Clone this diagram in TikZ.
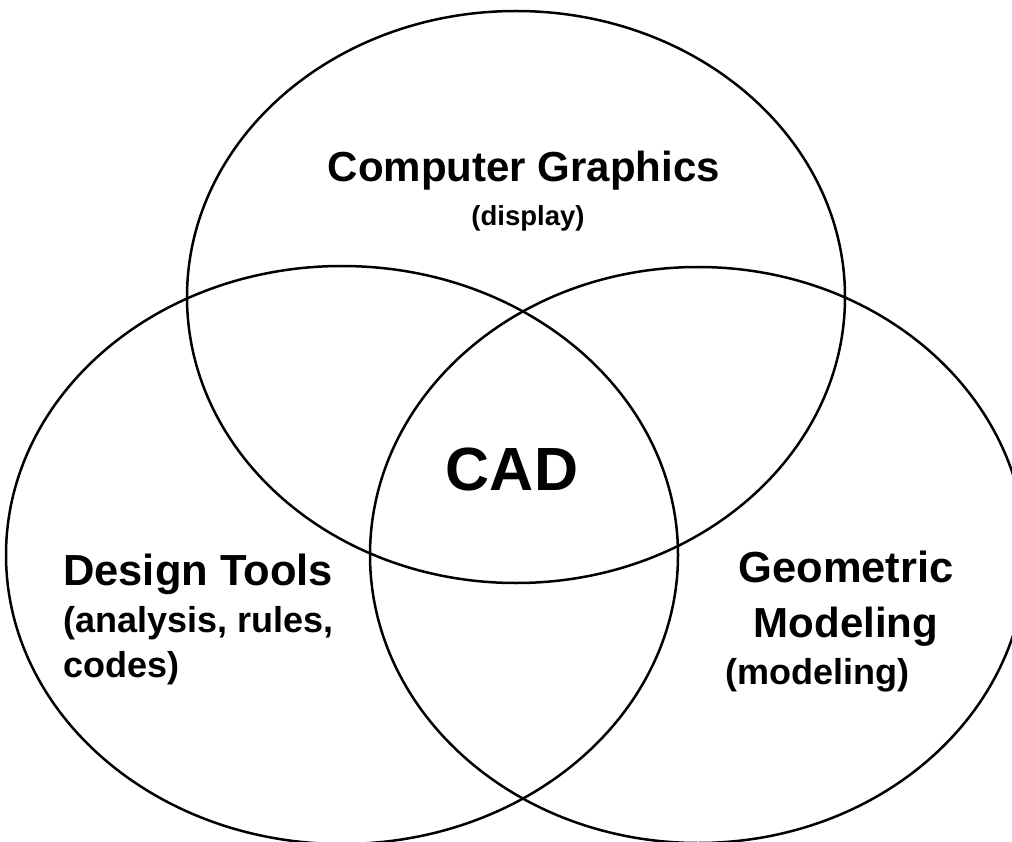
\documentclass[tikz,border=0pt]{standalone}
\usepackage{fontspec}
\setmainfont{Liberation Sans}
\begin{document}
\begin{tikzpicture}[x=1pt,y=-1pt,
  ring/.style={draw=black,line width=2.5pt},
  head/.style={inner sep=0pt,font=\fontsize{42}{50}\selectfont\bfseries},
  headbig/.style={inner sep=0pt,font=\fontsize{43.5}{52}\selectfont\bfseries},
  sub/.style={inner sep=0pt,font=\fontsize{36}{42}\selectfont\bfseries},
  subsmall/.style={inner sep=0pt,font=\fontsize{27.5}{32}\selectfont\bfseries},
  core/.style={inner sep=0pt,font=\fontsize{61}{70}\selectfont\bfseries}]
  \useasboundingbox (0,0) rectangle (1012,842);
  \begin{scope}
    \clip (0,0) rectangle (1012,842);
    % three overlapping sets
    \draw[ring] (516,297) ellipse [x radius=329, y radius=286];
    \draw[ring] (342,555) ellipse [x radius=336, y radius=289];
    \draw[ring] (698,555) ellipse [x radius=328, y radius=288];
  \end{scope}
  % labels
  \node[head,anchor=base] (cg) at (524,182) {Computer Graphics};
  \node[subsmall,anchor=base] (cgs) at (528,226) {(display)};
  \node[core,anchor=base] (cad) at (512,490) {CAD};
  \node[headbig,anchor=base west] (dt) at (63,585) {Design Tools};
  \node[sub,anchor=base west] (dt1) at (63,632) {(analysis, rules,};
  \node[sub,anchor=base west] (dt2) at (63,677) {codes)};
  \node[headbig,anchor=base] (gm1) at (846,582) {Geometric};
  \node[head,anchor=base] (gm2) at (846,637) {Modeling};
  \node[sub,anchor=base] (gm3) at (817,684) {(modeling)};
\end{tikzpicture}
\end{document}
